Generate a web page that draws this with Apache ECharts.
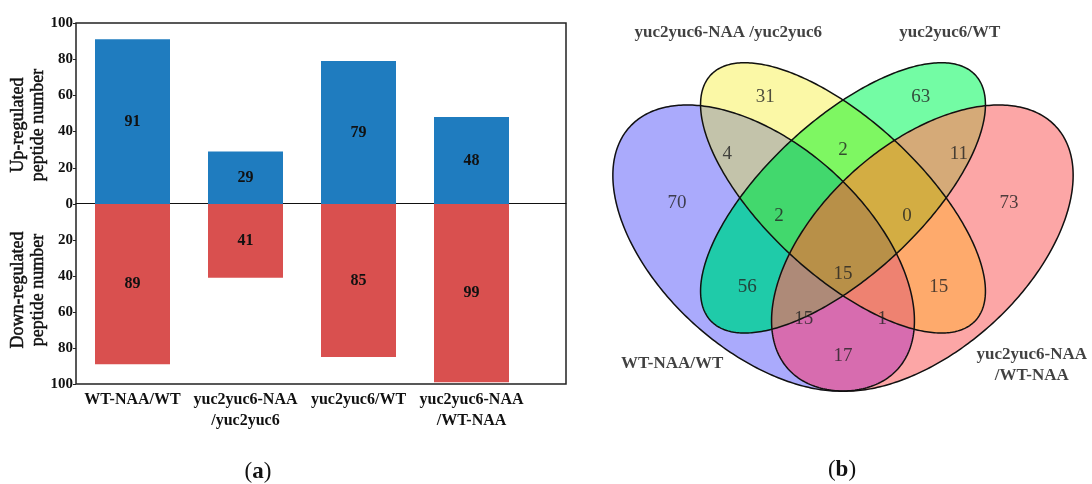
<!DOCTYPE html>
<html><head><meta charset="utf-8">
<script src="https://cdn.jsdelivr.net/npm/echarts@6/dist/echarts.min.js"></script>
<style>html,body{margin:0;padding:0;background:#fff}#c{width:1092px;height:484px}</style>
</head><body><div id="c"></div>
<script>
// ---- Panel (a) data ----
const categories = ['WT-NAA/WT', 'yuc2yuc6-NAA\n/yuc2yuc6', 'yuc2yuc6/WT', 'yuc2yuc6-NAA\n/WT-NAA'];
const upRegulated = [91, 29, 79, 48];
const downRegulated = [89, 41, 85, 99];
const yTickMax = 100;
const yTickStep = 20;

// ---- Panel (b) data ----
const setNames = ['WT-NAA/WT', 'yuc2yuc6-NAA /yuc2yuc6', 'yuc2yuc6/WT', 'yuc2yuc6-NAA\n/WT-NAA'];
const setNameX = [0.177, 0.283, 0.702, 0.857];
const setNameY = [0.240, 0.899, 0.899, 0.237];
// ellipse layout in unit square (4-set Venn)
const ellipseCx = [0.35, 0.5, 0.5, 0.65];
const ellipseCy = [0.47, 0.57, 0.57, 0.47];
const ellipseA = [0.35, 0.35, 0.35, 0.35];
const ellipseB = [0.2, 0.15, 0.15, 0.2];
const ellipseAngle = [135, 135, 45, 45];
// regions: set membership, counts, label anchors
const regionSets = [[0],[1],[2],[3],[0,1],[0,2],[0,3],[1,2],[1,3],[2,3],[0,1,2],[0,1,3],[0,2,3],[1,2,3],[0,1,2,3]];
const regionCounts = [70, 31, 63, 73, 4, 56, 17, 2, 15, 11, 2, 1, 15, 0, 15];
const regionLabelX = [0.186, 0.353, 0.647, 0.814, 0.281, 0.319, 0.5, 0.5, 0.681, 0.719, 0.379, 0.574, 0.426, 0.621, 0.5];
const regionLabelY = [0.559, 0.771, 0.771, 0.559, 0.658, 0.392, 0.254, 0.666, 0.392, 0.658, 0.533, 0.328, 0.328, 0.533, 0.419];
const regionColors = ['#aaaafc', '#fbf8a6', '#73fca4', '#fca6a6', '#c3c3aa', '#1fcba9', '#d76caf',
  '#7ef762', '#feaa6c', '#d5aa78', '#42d86d', '#ee8271', '#ae8a78', '#d3ad43', '#b89048'];

const SERIF = "'Liberation Serif', 'DejaVu Serif', serif";

function ellipsePoly(i, n) {
  n = n || 360;
  const pts = [];
  const th = ellipseAngle[i] * Math.PI / 180;
  for (let k = 0; k < n; k++) {
    const t = 2 * Math.PI * k / n;
    const ca = ellipseA[i] * Math.cos(t), sb = ellipseB[i] * Math.sin(t);
    pts.push([ellipseCx[i] + ca * Math.cos(th) - sb * Math.sin(th),
              ellipseCy[i] + ca * Math.sin(th) + sb * Math.cos(th)]);
  }
  return pts;
}
function clipPoly(subject, clipper) {
  let out = subject;
  for (let i = 0; i < clipper.length; i++) {
    if (!out.length) break;
    const a = clipper[i], b = clipper[(i + 1) % clipper.length];
    const inp = out; out = [];
    const inside = p => (b[0] - a[0]) * (p[1] - a[1]) - (b[1] - a[1]) * (p[0] - a[0]) >= 0;
    const inter = (p, q) => {
      const x1 = p[0], y1 = p[1], x2 = q[0], y2 = q[1], x3 = a[0], y3 = a[1], x4 = b[0], y4 = b[1];
      const d = (x1 - x2) * (y3 - y4) - (y1 - y2) * (x3 - x4);
      const t = ((x1 - x3) * (y3 - y4) - (y1 - y3) * (x3 - x4)) / d;
      return [x1 + t * (x2 - x1), y1 + t * (y2 - y1)];
    };
    for (let j = 0; j < inp.length; j++) {
      const cur = inp[j], prev = inp[(j + inp.length - 1) % inp.length];
      const ci = inside(cur), pi = inside(prev);
      if (ci) { if (!pi) out.push(inter(prev, cur)); out.push(cur); }
      else if (pi) out.push(inter(prev, cur));
    }
  }
  return out;
}
const ellipses = [0, 1, 2, 3].map(i => ellipsePoly(i));
const regionPolys = regionSets.map(s => {
  let p = ellipses[s[0]];
  for (let k = 1; k < s.length; k++) p = clipPoly(p, ellipses[s[k]]);
  return p;
});

const chart = echarts.init(document.getElementById('c'), null, {renderer: 'canvas'});
const tickLabel = {fontFamily: SERIF, fontSize: 15, fontWeight: 'bold', color: '#111', margin: 3};
const nameStyle = {font: "18px 'Liberation Serif'", fill: '#111', stroke: '#111', lineWidth: 0.5,
  align: 'center', verticalAlign: 'middle', textAlign: 'center', textVerticalAlign: 'middle', lineHeight: 20};

const option = {
  animation: false,
  backgroundColor: '#fff',
  grid: [
    {left: 76, top: 23, width: 452, height: 181},
    {left: 76, top: 204, width: 452, height: 180},
    {left: 76, top: 23, width: 490, height: 361, show: true, borderColor: '#222', borderWidth: 1.5, backgroundColor: 'transparent'},
    {left: 578.5, top: 0, width: 513.5, height: 485}
  ],
  xAxis: [
    {gridIndex: 0, type: 'category', data: categories, show: false},
    {gridIndex: 1, type: 'category', data: categories, position: 'bottom',
      axisLine: {show: false}, axisTick: {show: false},
      axisLabel: {fontFamily: SERIF, fontSize: 16, fontWeight: 'bold', color: '#111', lineHeight: 21, margin: 5, interval: 0}},
    {gridIndex: 2, type: 'value', min: 0, max: 1, axisLine: {show: true, onZero: true, lineStyle: {color: '#111', width: 1}},
      axisTick: {show: false}, axisLabel: {show: false}, splitLine: {show: false}},
    {gridIndex: 3, type: 'value', min: 0, max: 0.9707, show: false}
  ],
  yAxis: [
    {gridIndex: 0, type: 'value', min: 0, max: yTickMax, interval: yTickStep,
      axisLine: {show: false}, axisTick: {show: true, length: 3, lineStyle: {color: '#222'}},
      splitLine: {show: false}, axisLabel: tickLabel},
    {gridIndex: 1, type: 'value', min: 0, max: yTickMax, interval: yTickStep, inverse: true,
      axisLine: {show: false}, axisTick: {show: true, length: 3, lineStyle: {color: '#222'}},
      splitLine: {show: false}, axisLabel: Object.assign({}, tickLabel, {formatter: v => v === 0 ? '' : String(v)})},
    {gridIndex: 2, type: 'value', min: -yTickMax, max: yTickMax, axisLine: {show: false}, axisTick: {show: false},
      axisLabel: {show: false}, splitLine: {show: false}},
    {gridIndex: 3, type: 'value', min: 0, max: 0.9642, show: false}
  ],
  series: [
    {type: 'bar', xAxisIndex: 0, yAxisIndex: 0, data: upRegulated, barWidth: 75,
      itemStyle: {color: '#1f7cbf'},
      label: {show: true, position: 'inside', fontFamily: SERIF, fontSize: 16, fontWeight: 'bold', color: '#111'}},
    {type: 'bar', xAxisIndex: 1, yAxisIndex: 1, data: downRegulated, barWidth: 75,
      itemStyle: {color: '#d9504f'},
      label: {show: true, position: 'inside', fontFamily: SERIF, fontSize: 16, fontWeight: 'bold', color: '#111'}},
    {type: 'custom', xAxisIndex: 3, yAxisIndex: 3, clip: false,
      data: regionSets.map((s, i) => [regionLabelX[i], regionLabelY[i]]),
      renderItem: (params, api) => ({
        type: 'polygon',
        shape: {points: regionPolys[params.dataIndex].map(p => api.coord(p))},
        style: {fill: regionColors[params.dataIndex], stroke: regionColors[params.dataIndex], lineWidth: 0.6}
      }),
      z: 1},
    {type: 'custom', xAxisIndex: 3, yAxisIndex: 3, clip: false,
      data: ellipseCx.map((x, i) => [x, ellipseCy[i]]),
      renderItem: (params, api) => ({
        type: 'polygon',
        shape: {points: ellipses[params.dataIndex].map(p => api.coord(p))},
        style: {fill: 'none', stroke: '#111', lineWidth: 1.5}
      }),
      z: 2},
    {type: 'scatter', xAxisIndex: 3, yAxisIndex: 3, symbolSize: 0, z: 3,
      data: regionCounts.map((c, i) => [regionLabelX[i], regionLabelY[i], c]),
      label: {show: true, position: 'inside', formatter: p => String(p.value[2]),
        fontFamily: SERIF, fontSize: 19, color: '#222'}},
    {type: 'scatter', xAxisIndex: 3, yAxisIndex: 3, symbolSize: 0, z: 3,
      data: setNames.map((n, i) => [setNameX[i], setNameY[i], n]),
      label: {show: true, position: 'inside', formatter: p => p.value[2],
        fontFamily: SERIF, fontSize: 17, fontWeight: 'bold', color: '#111', lineHeight: 21}}
  ],
  graphic: [
    {type: 'text', x: 28, y: 125, rotation: Math.PI / 2,
      style: Object.assign({text: 'Up-regulated\npeptide number'}, nameStyle)},
    {type: 'text', x: 28, y: 290, rotation: Math.PI / 2,
      style: Object.assign({text: 'Down-regulated\npeptide number'}, nameStyle)},
    {type: 'text', x: 258, y: 472,
      style: {text: '{p|(}{b|a}{p|)}', rich: {p: {font: "23px 'Liberation Serif'", fill: '#111'}, b: {font: "bold 23px 'Liberation Serif'", fill: '#111'}},
        align: 'center', verticalAlign: 'middle', textAlign: 'center', textVerticalAlign: 'middle'}},
    {type: 'text', x: 842, y: 470,
      style: {text: '{p|(}{b|b}{p|)}', rich: {p: {font: "23px 'Liberation Serif'", fill: '#111'}, b: {font: "bold 23px 'Liberation Serif'", fill: '#111'}},
        align: 'center', verticalAlign: 'middle', textAlign: 'center', textVerticalAlign: 'middle'}}
  ]
};
chart.setOption(option);
</script></body></html>
